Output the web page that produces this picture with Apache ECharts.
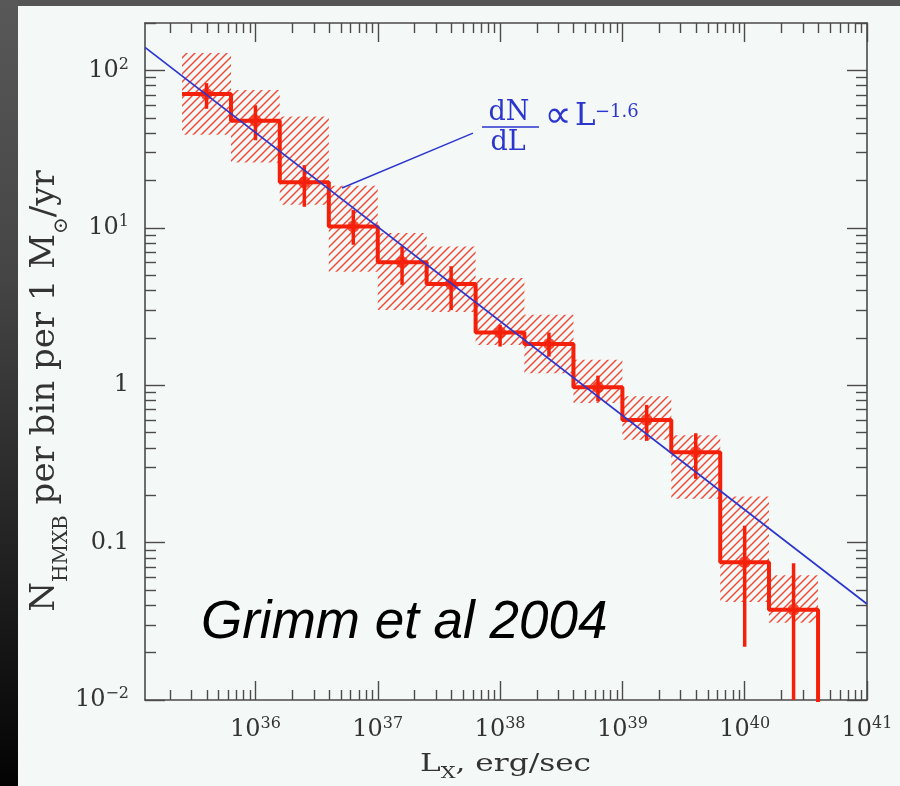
<!DOCTYPE html>
<html><head><meta charset="utf-8">
<script src="https://cdn.jsdelivr.net/npm/echarts@6/dist/echarts.min.js"></script>
<style>html,body{margin:0;padding:0;background:#f4f8f7}#c{width:900px;height:786px}</style>
</head><body><div id="c"></div>
<script>
// ---------------- data ----------------
const binEdges   = [2.51e35, 6.31e35, 1.58e36, 3.98e36, 1e37, 2.51e37, 6.31e37, 1.58e38, 3.98e38, 1e39, 2.51e39, 6.31e39, 1.58e40, 3.98e40];
const binCenters = [3.98e35, 1e36, 2.51e36, 6.31e36, 1.58e37, 3.98e37, 1e38, 2.51e38, 6.31e38, 1.58e39, 3.98e39, 1e40, 2.51e40];
const counts     = [70.8, 47.9, 19.5, 10.2, 6.05, 4.40, 2.16, 1.83, 0.97, 0.60, 0.375, 0.075, 0.0374];
const errHigh    = [83, 60, 25, 13.0, 7.6, 5.7, 2.42, 2.16, 1.15, 0.75, 0.495, 0.128, 0.074];
const errLow     = [57, 36, 13.6, 7.8, 4.34, 3.0, 1.76, 1.52, 0.79, 0.443, 0.254, 0.0218, 0.001];
const bandHigh   = [129, 75, 51, 18.5, 9.25, 7.6, 4.8, 2.8, 1.45, 0.85, 0.48, 0.196, 0.062];
const bandLow    = [39, 26, 14, 5.25, 3.0, 2.92, 1.8, 1.19, 0.77, 0.45, 0.19, 0.042, 0.031];
const tailValue  = 1e-4;              // histogram drops off below the axis after the last bin
const powerLaw   = [[1.25e35, 140], [1e41, 0.0407]];
const leaderLine = [[5.1e36, 17.9], [6.0e37, 40]];
const xMin = 1.25e35, xMax = 1e41, yMin = 0.01, yMax = 200;
const xMajor = [1e36, 1e37, 1e38, 1e39, 1e40, 1e41];
const xTickLabels = ['{b|10}{s|36}', '{b|10}{s|37}', '{b|10}{s|38}', '{b|10}{s|39}', '{b|10}{s|40}', '{b|10}{s|41}'];
const yMajor = [0.01, 0.1, 1, 10, 100];
const yTickLabels = ['{b|10}{s|−2}', '{b|0.1}', '{b|1}', '{b|10}{s|1}', '{b|10}{s|2}'];
const minorMult = [2, 3, 4, 5, 6, 7, 8, 9];
const xDecades = [35, 36, 37, 38, 39, 40];
const yDecades = [-2, -1, 0, 1, 2];

// ---------------- helpers ----------------
function minorTicks(decades, lo, hi) {
  const out = [];
  decades.forEach(d => minorMult.forEach(m => {
    const v = m * Math.pow(10, d);
    if (v >= lo * 0.9999 && v <= hi * 1.0001) out.push(v);
  }));
  return out;
}
const xMinor = minorTicks(xDecades, xMin, xMax);
const yMinor = minorTicks(yDecades, yMin, yMax);
function lookup(v, majors, labels) {
  const lv = Math.log10(v);
  for (let i = 0; i < majors.length; i++) if (Math.abs(Math.log10(majors[i]) - lv) < 0.01) return labels[i];
  return '';
}
const HATCH_STEP = 8, HATCH_COLOR = 'rgb(240,72,55)', HATCH_WIDTH = 1.4;

const RED = '#f4200a', BLUE = '#2b36cf', AX = '#4a4a4a', TXT = '#333333';
const labelRich = {
  b: { fontFamily: 'DejaVu Serif', fontSize: 24, color: TXT, lineHeight: 28 },
  s: { fontFamily: 'DejaVu Serif', fontSize: 16, color: TXT, lineHeight: 16, verticalAlign: 'top' }
};
function xAx(pos, major, labels) {
  return {
    type: 'log', gridIndex: 0, min: xMin, max: xMax, position: pos,
    axisLine: { show: major, onZero: false, lineStyle: { color: AX, width: 1.6 } },
    axisTick: { show: true, inside: true, length: major ? 19 : 10, customValues: major ? xMajor : xMinor, lineStyle: { color: AX, width: 1.4 } },
    minorTick: { show: false }, splitLine: { show: false },
    axisLabel: labels ? { show: true, customValues: xMajor, margin: 16, formatter: v => lookup(v, xMajor, xTickLabels), rich: labelRich } : { show: false }
  };
}
function yAx(pos, major, labels) {
  return {
    type: 'log', gridIndex: 0, min: yMin, max: yMax, position: pos,
    axisLine: { show: major, onZero: false, lineStyle: { color: AX, width: 1.6 } },
    axisTick: { show: true, inside: true, length: major ? 20 : 11, customValues: major ? yMajor : yMinor, lineStyle: { color: AX, width: 1.4 } },
    minorTick: { show: false }, splitLine: { show: false },
    axisLabel: labels ? { show: true, customValues: yMajor, margin: 16, formatter: v => lookup(v, yMajor, yTickLabels), rich: labelRich } : { show: false }
  };
}

const stepData = binEdges.map((e, i) => [e, i < counts.length ? counts[i] : tailValue]);
const bandData = counts.map((c, i) => [binEdges[i], binEdges[i + 1], bandLow[i], bandHigh[i]]);
const errData = binCenters.map((x, i) => [x, errHigh[i], errLow[i]]);
const pointData = binCenters.map((x, i) => [x, counts[i]]);

const option = {
  animation: false,
  backgroundColor: '#f4f8f7',
  grid: { left: 145, right: 33, top: 23, bottom: 86, containLabel: false, outerBoundsMode: 'none' },
  xAxis: [xAx('bottom', true, true), xAx('bottom', false, false), xAx('top', true, false), xAx('top', false, false)],
  yAxis: [yAx('left', true, true), yAx('left', false, false), yAx('right', true, false), yAx('right', false, false)],
  series: [
    {
      type: 'custom', name: 'band', xAxisIndex: 0, yAxisIndex: 0, clip: true, z: 1,
      data: bandData, encode: { x: [0, 1], y: [2, 3] },
      renderItem: function (params, api) {
        const p1 = api.coord([api.value(0), api.value(3)]);
        const p2 = api.coord([api.value(1), api.value(2)]);
        const x0 = p1[0], y0 = p1[1], w = p2[0] - p1[0], h = p2[1] - p1[1];
        const children = [];
        const cStart = Math.floor((x0 + y0) / HATCH_STEP) * HATCH_STEP;
        for (let c = cStart; c <= x0 + w + y0 + h + HATCH_STEP; c += HATCH_STEP) {
          children.push({ type: 'line', shape: { x1: c - y0 - h - 2, y1: y0 + h + 2, x2: c - y0 + 2, y2: y0 - 2 },
                          style: { stroke: HATCH_COLOR, lineWidth: HATCH_WIDTH } });
        }
        return { type: 'group', children: children,
                 clipPath: { type: 'rect', shape: { x: x0, y: y0, width: w, height: h } } };
      }
    },
    {
      type: 'line', name: 'histogram', xAxisIndex: 0, yAxisIndex: 0, data: stepData, step: 'end',
      symbol: 'none', clip: true, z: 3, lineStyle: { color: RED, width: 4 }
    },
    {
      type: 'custom', name: 'errors', xAxisIndex: 0, yAxisIndex: 0, clip: true, z: 4,
      data: errData, encode: { x: 0, y: [1, 2] },
      renderItem: function (params, api) {
        const a = api.coord([api.value(0), api.value(1)]);
        const b = api.coord([api.value(0), api.value(2)]);
        return { type: 'line', shape: { x1: a[0], y1: a[1], x2: b[0], y2: b[1] }, style: { stroke: RED, lineWidth: 3.5 } };
      }
    },
    {
      type: 'scatter', name: 'points', xAxisIndex: 0, yAxisIndex: 0, data: pointData, z: 5,
      symbol: 'circle', symbolSize: 12, itemStyle: { color: RED }
    },
    {
      type: 'line', name: 'power law', xAxisIndex: 0, yAxisIndex: 0, data: powerLaw, symbol: 'none',
      clip: true, z: 6, lineStyle: { color: BLUE, width: 1.7 }
    },
    {
      type: 'line', name: 'leader', xAxisIndex: 0, yAxisIndex: 0, data: leaderLine, symbol: 'none',
      clip: true, z: 6, lineStyle: { color: BLUE, width: 1.4 }
    }
  ],
  graphic: [
    { type: 'rect', z: -10, shape: { x: 0, y: 0, width: 900, height: 6 }, style: { fill: '#555555' } },
    { type: 'rect', z: -10, shape: { x: 0, y: 0, width: 18, height: 786 },
      style: { fill: new echarts.graphic.LinearGradient(0, 0, 0, 1, [
        { offset: 0, color: '#585858' }, { offset: 0.35, color: '#454545' }, { offset: 0.7, color: '#222222' }, { offset: 1, color: '#030303' }]) } },
    { type: 'text', z: 10, x: 201, y: 623,
      style: { text: 'Grimm et al 2004', fontFamily: 'Liberation Sans', fontStyle: 'italic', fontSize: 53, fill: '#000', align: 'left', verticalAlign: 'middle' } },
    // annotation dN/dL ∝ L^-1.6
    { type: 'text', z: 10, x: 509, y: 113, style: { text: 'dN', fontFamily: 'DejaVu Serif', fontSize: 27, fill: BLUE, align: 'center', verticalAlign: 'middle' } },
    { type: 'line', z: 10, shape: { x1: 482, y1: 127, x2: 539, y2: 127 }, style: { stroke: BLUE, lineWidth: 1.5 } },
    { type: 'text', z: 10, x: 508, y: 143, style: { text: 'dL', fontFamily: 'DejaVu Serif', fontSize: 27, fill: BLUE, align: 'center', verticalAlign: 'middle' } },
    { type: 'text', z: 10, x: 558, y: 117, style: { text: '∝', fontFamily: 'DejaVu Sans', fontSize: 38, fill: BLUE, align: 'center', verticalAlign: 'middle' } },
    { type: 'text', z: 10, x: 575, y: 117, style: { text: 'L', fontFamily: 'DejaVu Serif', fontSize: 31, fill: BLUE, align: 'left', verticalAlign: 'middle' } },
    { type: 'text', z: 10, x: 595, y: 112, style: { text: '−1.6', fontFamily: 'DejaVu Serif', fontSize: 18, fill: BLUE, align: 'left', verticalAlign: 'middle' } },
    // axis titles
    { type: 'text', z: 10, x: 505.5, y: 765, scaleX: 1.3,
      style: { text: '{m|L}{sub|X}{m|, erg/sec}', align: 'center', verticalAlign: 'middle',
        rich: { m: { fontFamily: 'DejaVu Serif', fontSize: 24, fill: TXT, lineHeight: 34 },
                sub: { fontFamily: 'DejaVu Serif', fontSize: 16, fill: TXT, lineHeight: 16, verticalAlign: 'bottom' } } } },
    { type: 'text', z: 10, x: 45, y: 391, rotation: Math.PI / 2,
      style: { text: '{m|N}{sub|HMXB}{m| per bin per 1 M}{sub|⊙}{m|/yr}', align: 'center', verticalAlign: 'middle',
        rich: { m: { fontFamily: 'DejaVu Serif', fontSize: 34, fill: TXT, lineHeight: 54 },
                sub: { fontFamily: 'DejaVu Serif', fontSize: 20, fill: TXT, lineHeight: 20, verticalAlign: 'bottom' } } } }
  ]
};
const chart = echarts.init(document.getElementById('c'));
chart.setOption(option);
</script></body></html>
